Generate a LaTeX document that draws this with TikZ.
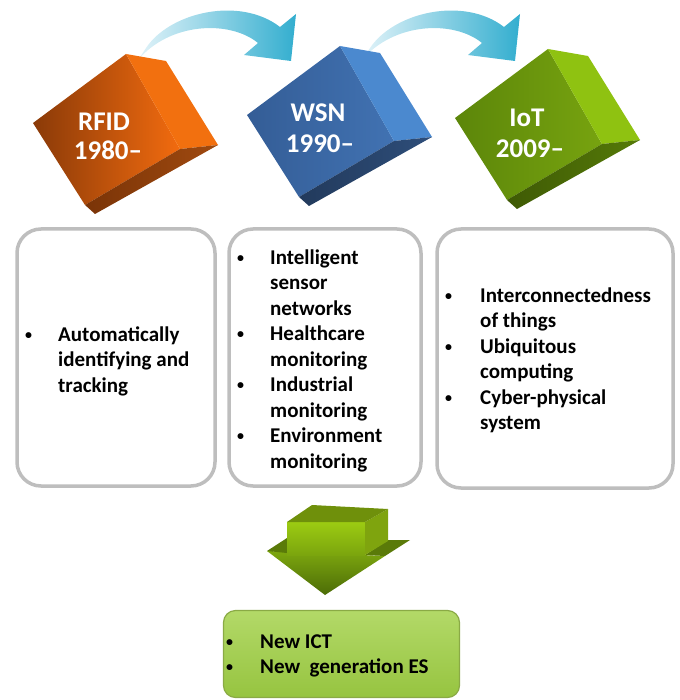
\documentclass[tikz,border=0pt]{standalone}
\usepackage{fontspec}
\setmainfont{Carlito}
\definecolor{orA}{HTML}{8A3A08}
\definecolor{orB}{HTML}{F26B0F}
\definecolor{orS}{HTML}{F2700F}
\definecolor{orD}{HTML}{7A3407}
\definecolor{orE}{HTML}{A04A10}
\definecolor{blA}{HTML}{345D96}
\definecolor{blB}{HTML}{4172B2}
\definecolor{blS}{HTML}{4B89CF}
\definecolor{blD}{HTML}{223A5C}
\definecolor{blE}{HTML}{2E4E7A}
\definecolor{grA}{HTML}{5C860A}
\definecolor{grB}{HTML}{77A30F}
\definecolor{grS}{HTML}{8FC211}
\definecolor{grD}{HTML}{3F5A05}
\definecolor{grE}{HTML}{557A08}
\definecolor{arrowLight}{HTML}{E2F3F9}
\definecolor{arrowDark}{HTML}{33AECF}
\definecolor{boxgray}{HTML}{BEBEBE}
\definecolor{botTop}{HTML}{B3D968}
\definecolor{botBot}{HTML}{96C440}
\definecolor{botLine}{HTML}{8AAA45}
\definecolor{dnTop}{HTML}{6F900B}
\definecolor{dnFrontA}{HTML}{9CCB12}
\definecolor{dnFrontB}{HTML}{7BA50E}
\definecolor{dnSide}{HTML}{7FA40E}
\definecolor{dnHeadA}{HTML}{7DA70F}
\definecolor{dnHeadB}{HTML}{4C6C07}
\definecolor{dnWing}{HTML}{5A7A09}
\newcommand\cubefaces[6]{%
  \shade[left color=#1,right color=#2] (0,0) -- (93,-69) -- (147,26) -- (52,82) -- cycle;
  \fill[#3] (93,-69) -- (133,-62) -- (185,22) -- (147,26) -- cycle;
  \shade[left color=#4,right color=#5] (52,82) -- (147,26) -- (185,22) -- (62,91) -- cycle;
}
\newcommand\arrowpath{(138,60) -- (146,48) .. controls (170,12) and (240,-4) .. (280,27) -- (296,14) -- (291,61) -- (244,55) -- (258,43) .. controls (230,20) and (170,22) .. (138,60) -- cycle}
\tikzset{
  cubetext/.style={text=white,font=\fontsize{27}{30}\selectfont\bfseries,anchor=base,inner sep=0pt},
  listtext/.style={font=\fontsize{21}{25}\selectfont\bfseries,anchor=base west,inner sep=0pt},
  bulletmark/.style={font=\fontsize{14}{16}\selectfont\bfseries,anchor=base west,inner sep=0pt,yshift=2pt},
  greybox/.style={draw=boxgray,line width=3.5pt,rounded corners=24pt,inner sep=0pt,fill=white},
}
\begin{document}
\begin{tikzpicture}[x=1pt,y=-1pt]
\useasboundingbox (0,0) rectangle (679,700);
% curved arrows
\shade[left color=arrowLight,right color=arrowDark] \arrowpath;
\begin{scope}[shift={(224,0)}]
\shade[left color=arrowLight,right color=arrowDark] \arrowpath;
\end{scope}
% cubes
\begin{scope}[shift={(33,123)}]
\cubefaces{orA}{orB}{orS}{orD}{orE}{}
\end{scope}
\begin{scope}[shift={(247,115)}]
\cubefaces{blA}{blB}{blS}{blD}{blE}{}
\end{scope}
\begin{scope}[shift={(455,118)}]
\cubefaces{grA}{grB}{grS}{grD}{grE}{}
\end{scope}
\node[cubetext] (rfid) at (104,131) {RFID};
\node[cubetext] (rfidy) at (108,160) {1980–};
\node[cubetext] (wsn) at (318,122) {WSN};
\node[cubetext] (wsny) at (320,153) {1990–};
\node[cubetext] (iot) at (527,127) {IoT};
\node[cubetext] (iity) at (530,158) {2009–};
% boxes
\node[greybox,minimum width=198pt,minimum height=257pt] (box1) at (116,357.5) {};
\node[greybox,minimum width=192pt,minimum height=257pt] (box2) at (325,357.5) {};
\node[greybox,minimum width=236pt,minimum height=259pt] (box3) at (555,358.5) {};
% box 1 text
\node[bulletmark] (b1) at (25,341) {•};
\node[listtext] (l1a) at (58,341) {Automatically};
\node[listtext] (l1b) at (58,366.5) {identifying and};
\node[listtext] (l1c) at (58,392) {tracking};
% box 2 text
\node[bulletmark] (b2a) at (237,264) {•};
\node[listtext] (l2a) at (270,264) {Intelligent};
\node[listtext] (l2b) at (270,289.5) {sensor};
\node[listtext] (l2c) at (270,315) {networks};
\node[bulletmark] (b2b) at (237,340.5) {•};
\node[listtext] (l2d) at (270,340.5) {Healthcare};
\node[listtext] (l2e) at (270,366) {monitoring};
\node[bulletmark] (b2c) at (237,391.5) {•};
\node[listtext] (l2f) at (270,391.5) {Industrial};
\node[listtext] (l2g) at (270,417) {monitoring};
\node[bulletmark] (b2d) at (237,442.5) {•};
\node[listtext] (l2h) at (270,442.5) {Environment};
\node[listtext] (l2i) at (270,468) {monitoring};
% box 3 text
\node[bulletmark] (b3a) at (445,302) {•};
\node[listtext] (l3a) at (480,302) {Interconnectedness};
\node[listtext] (l3b) at (480,327.5) {of things};
\node[bulletmark] (b3b) at (445,353) {•};
\node[listtext] (l3c) at (480,353) {Ubiquitous};
\node[listtext] (l3d) at (480,378.5) {computing};
\node[bulletmark] (b3c) at (445,404) {•};
\node[listtext] (l3e) at (480,404) {Cyber-physical};
\node[listtext] (l3f) at (480,429.5) {system};
% 3D down arrow
\shade[top color=dnHeadA,bottom color=dnHeadB] (267,551) -- (385,556) -- (325,595) -- cycle;
\fill[dnWing] (267,551) -- (287,538) -- (287,553) -- cycle;
\fill[dnWing] (365,555) -- (388,540) -- (410,540) -- (385,556) -- cycle;
\shade[top color=dnFrontA,bottom color=dnFrontB] (287,522) rectangle (365,555);
\fill[dnSide] (365,522) -- (388,509) -- (388,541) -- (365,555) -- cycle;
\fill[dnTop] (287,522) -- (312,505) -- (388,509) -- (365,522) -- cycle;
% bottom box
\node[draw=botLine,line width=1.2pt,rounded corners=12pt,top color=botTop,bottom color=botBot,minimum width=236pt,minimum height=87pt,inner sep=0pt] (bot) at (341.5,654) {};
\node[bulletmark] (b4a) at (226,648) {•};
\node[listtext] (l4a) at (260,648) {New ICT};
\node[bulletmark] (b4b) at (226,673) {•};
\node[listtext] (l4b) at (260,673) {New\ \ generation ES};
\end{tikzpicture}
\end{document}
